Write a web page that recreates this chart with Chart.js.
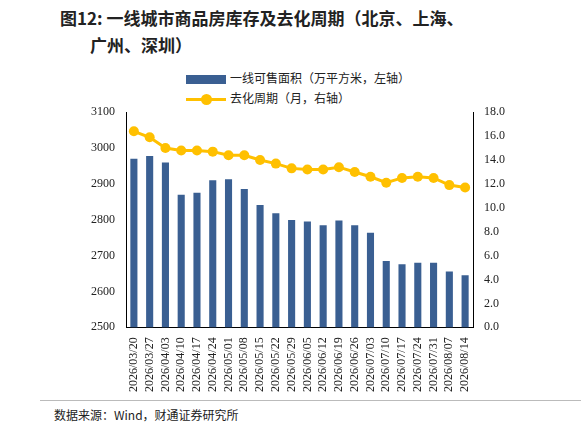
<!DOCTYPE html>
<html>
<head>
<meta charset="utf-8">
<script src="https://cdn.jsdelivr.net/npm/chart.js@4"></script>
<style>
  body { margin: 0; background: #fff; font-family: "Noto Sans CJK SC", sans-serif; }
  #wrap { width: 581px; height: 434px; position: relative; }
  h1 { position: absolute; left: 60px; top: 4px; margin: 0; font-size: 17px; font-weight: bold; line-height: 27px; color: #222; width: 500px; }
  h1 span { display: block; padding-left: 30px; }
  #legend { position: absolute; left: 186px; top: 68px; font-size: 12px; color: #222; line-height: 20px; }
  .bar { display: inline-block; width: 40px; height: 9px; background: #3A5F92; vertical-align: middle; margin-right: 4px; }
  .ln { display: inline-block; width: 40px; height: 3px; background: #FFC000; vertical-align: middle; margin-right: 4px; position: relative; }
  .ln i { position: absolute; left: 15px; top: -4px; width: 11px; height: 11px; border-radius: 50%; background: #FFC000; }
  #box { position: absolute; left: 88px; top: 102px; width: 420px; height: 292px; }
  #src { position: absolute; left: 54px; top: 406px; font-size: 12px; color: #222; }
  #line { position: absolute; left: 40px; top: 400px; width: 541px; border-top: 1px solid #bbb; }
</style>
</head>
<body>
<div id="wrap">
  <h1>图12: 一线城市商品房库存及去化周期（北京、上海、<span>广州、深圳）</span></h1>
  <div id="legend">
    <div><span class="bar"></span>一线可售面积（万平方米，左轴）</div>
    <div><span class="ln"><i></i></span>去化周期（月，右轴）</div>
  </div>
  <div id="box"><canvas id="c"></canvas></div>
  <div id="line"></div>
  <div id="src">数据来源：Wind，财通证券研究所</div>
</div>
<script>
const dates = ["2026/03/20","2026/03/27","2026/04/03","2026/04/10","2026/04/17","2026/04/24","2026/05/01","2026/05/08","2026/05/15","2026/05/22","2026/05/29","2026/06/05","2026/06/12","2026/06/19","2026/06/26","2026/07/03","2026/07/10","2026/07/17","2026/07/24","2026/07/31","2026/08/07","2026/08/14"];
const inventory = [2970, 2978, 2960, 2870, 2875, 2910, 2913, 2886, 2841, 2818, 2799, 2795, 2785, 2798, 2785, 2764, 2685, 2676, 2680, 2680, 2656, 2645];
const cycle = [16.4, 15.9, 15.0, 14.8, 14.8, 14.7, 14.4, 14.4, 14.0, 13.7, 13.3, 13.2, 13.2, 13.4, 13.0, 12.6, 12.1, 12.5, 12.6, 12.5, 11.9, 11.7];

new Chart(document.getElementById("c"), {
  data: {
    labels: dates,
    datasets: [
      {
        type: "line",
        data: cycle,
        yAxisID: "y1",
        borderColor: "#FFC000",
        backgroundColor: "#FFC000",
        borderWidth: 3,
        pointRadius: 5,
        pointBorderWidth: 0,
        order: 0,
      },
      {
        type: "bar",
        data: inventory,
        yAxisID: "y",
        backgroundColor: "#3A5F92",
        barPercentage: 0.45,
        categoryPercentage: 1,
        order: 1,
      },
    ],
  },
  options: {
    responsive: true,
    maintainAspectRatio: false,
    animation: false,
    plugins: { legend: { display: false }, tooltip: { enabled: false } },
    scales: {
      x: {
        grid: { display: false, drawTicks: true },
        border: { color: "#000" },
        ticks: {
          color: "#222",
          font: { size: 12, family: "Liberation Serif" },
          maxRotation: 90,
          minRotation: 90,
          autoSkip: false,
          padding: 2,
        },
      },
      y: {
        position: "left",
        min: 2500,
        max: 3100,
        grid: { display: false },
        border: { color: "#000" },
        ticks: { stepSize: 100, color: "#222", font: { size: 12, family: "Liberation Serif" }, callback: v => String(v) },
      },
      y1: {
        position: "right",
        min: 0,
        max: 18,
        grid: { display: false },
        border: { color: "#000" },
        ticks: { stepSize: 2, color: "#222", font: { size: 12, family: "Liberation Serif" }, callback: v => v.toFixed(1) },
      },
    },
  },
});
</script>
</body>
</html>
